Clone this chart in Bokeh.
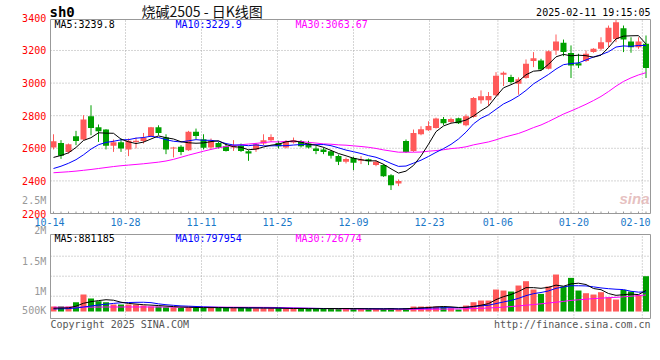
from bokeh.plotting import figure
from bokeh.models import Range1d, Label, ColumnDataSource
from bokeh.embed import file_html
from bokeh.resources import INLINE
from bokeh.core.properties import value

# ---------------- data ----------------
date_labels = ["10-14", "10-28", "11-11", "11-25", "12-09", "12-23", "01-06", "01-20", "02-10"]
date_slots = [0, 10, 20, 30, 40, 50, 59, 69, 78]

opens = [2605, 2633, 2578, 2674, 2654, 2796, 2729, 2715, 2615, 2637,
         2593, 2639, 2644, 2674, 2729, 2666, 2599, 2609, 2588, 2701,
         2656, 2605, 2633, 2613, 2605, 2615, 2582, 2593, 2629, 2650,
         2633, 2605, 2635, 2644, 2629, 2599, 2593, 2582, 2552, 2517,
         2540, 2523, 2533, 2497, 2497, 2435, 2384, 2645, 2584, 2686,
         2711, 2725, 2780, 2762, 2784, 2741, 2792, 2894, 2894, 2925,
         3051, 3037, 2996, 3031, 3135, 3139, 3088, 3200, 3247, 3184,
         3122, 3135, 3190, 3210, 3251, 3271, 3337, 3255, 3220, 3241]
highs = [2686, 2650, 2629, 2707, 2803, 2864, 2746, 2717, 2654, 2660,
         2660, 2666, 2694, 2731, 2741, 2686, 2609, 2619, 2707, 2721,
         2686, 2660, 2639, 2629, 2650, 2629, 2588, 2633, 2686, 2686,
         2646, 2650, 2666, 2650, 2646, 2613, 2605, 2590, 2562, 2543,
         2548, 2552, 2537, 2527, 2503, 2441, 2409, 2654, 2715, 2735,
         2766, 2788, 2792, 2788, 2788, 2808, 2914, 2955, 2945, 3067,
         3071, 3051, 3035, 3145, 3190, 3149, 3200, 3298, 3267, 3231,
         3180, 3200, 3214, 3281, 3353, 3388, 3353, 3281, 3281, 3292]
lows = [2593, 2535, 2568, 2619, 2650, 2680, 2639, 2593, 2578, 2578,
        2552, 2599, 2629, 2670, 2680, 2564, 2544, 2558, 2584, 2656,
        2593, 2593, 2599, 2580, 2584, 2578, 2523, 2578, 2619, 2639,
        2599, 2599, 2629, 2605, 2599, 2564, 2564, 2537, 2497, 2507,
        2466, 2503, 2497, 2490, 2425, 2344, 2368, 2572, 2578, 2680,
        2707, 2721, 2743, 2755, 2749, 2735, 2788, 2874, 2860, 2919,
        2982, 2996, 2929, 3027, 3098, 3078, 3084, 3173, 3165, 3031,
        3092, 3129, 3186, 3200, 3220, 3251, 3190, 3186, 3210, 3031]
closes = [2643, 2554, 2625, 2644, 2776, 2725, 2705, 2615, 2637, 2599,
          2646, 2646, 2664, 2729, 2694, 2593, 2605, 2578, 2701, 2676,
          2603, 2646, 2605, 2584, 2613, 2584, 2568, 2625, 2650, 2670,
          2613, 2644, 2650, 2613, 2605, 2584, 2578, 2554, 2517, 2535,
          2511, 2531, 2521, 2517, 2429, 2374, 2400, 2578, 2694, 2717,
          2737, 2782, 2753, 2780, 2753, 2796, 2908, 2919, 2920, 3045,
          3063, 3006, 3023, 3118, 3153, 3084, 3196, 3255, 3190, 3108,
          3108, 3180, 3210, 3251, 3339, 3373, 3267, 3220, 3255, 3092]

ma5 = [2544, 2556, 2572, 2605, 2648, 2665, 2695, 2693, 2692, 2656,
       2640, 2629, 2638, 2657, 2676, 2665, 2657, 2640, 2634, 2631,
       2633, 2641, 2646, 2623, 2610, 2606, 2591, 2595, 2608, 2619,
       2625, 2640, 2645, 2638, 2625, 2619, 2606, 2587, 2568, 2554,
       2539, 2530, 2523, 2523, 2502, 2474, 2448, 2460, 2495, 2553,
       2625, 2702, 2737, 2754, 2761, 2773, 2798, 2831, 2859, 2917,
       2971, 2990, 3011, 3051, 3073, 3077, 3115, 3161, 3176, 3167,
       3171, 3168, 3159, 3171, 3218, 3271, 3288, 3290, 3291, 3240]
ma10 = [2476, 2490, 2508, 2530, 2560, 2595, 2622, 2636, 2643, 2652,
        2653, 2662, 2666, 2674, 2666, 2653, 2643, 2639, 2646, 2653,
        2649, 2649, 2643, 2629, 2620, 2620, 2616, 2621, 2615, 2615,
        2616, 2616, 2620, 2623, 2622, 2622, 2623, 2616, 2603, 2589,
        2579, 2568, 2555, 2545, 2528, 2507, 2489, 2491, 2509, 2527,
        2550, 2575, 2598, 2624, 2657, 2699, 2750, 2784, 2806, 2839,
        2872, 2894, 2921, 2955, 2995, 3024, 3053, 3086, 3113, 3120,
        3124, 3142, 3160, 3174, 3192, 3221, 3228, 3225, 3231, 3230]
ma30 = [2450, 2453, 2456, 2460, 2465, 2470, 2476, 2482, 2488, 2493,
        2497, 2501, 2505, 2510, 2515, 2522, 2532, 2545, 2558, 2570,
        2582, 2593, 2603, 2611, 2617, 2622, 2626, 2630, 2635, 2640,
        2639, 2642, 2643, 2642, 2636, 2632, 2627, 2625, 2621, 2619,
        2615, 2611, 2606, 2599, 2590, 2583, 2576, 2576, 2576, 2577,
        2582, 2586, 2591, 2598, 2602, 2609, 2621, 2630, 2639, 2652,
        2667, 2679, 2691, 2708, 2727, 2743, 2764, 2787, 2810, 2829,
        2849, 2870, 2893, 2918, 2948, 2981, 3010, 3032, 3050, 3064]

# volume in thousands (read against the 500K / 1M / 1.5M grid)
volume = [242, 242, 242, 350, 542, 442, 375, 350, 292, 292,
          292, 292, 267, 242, 242, 225, 225, 208, 225, 208,
          208, 225, 208, 208, 208, 208, 208, 200, 200, 200,
          200, 183, 183, 200, 183, 192, 192, 192, 200, 183,
          183, 183, 183, 183, 183, 200, 158, 200, 242, 242,
          242, 242, 242, 200, 167, 267, 350, 392, 392, 667,
          642, 617, 767, 875, 667, 558, 742, 1042, 742, 958,
          642, 575, 542, 600, 475, 417, 658, 617, 533, 1000]
vol_ma5 = [200, 205, 210, 250, 324, 364, 390, 412, 400, 350,
           320, 304, 287, 277, 267, 254, 240, 228, 225, 218,
           215, 215, 215, 211, 211, 211, 208, 206, 205, 203,
           202, 197, 193, 193, 190, 188, 190, 192, 192, 192,
           190, 188, 186, 183, 183, 186, 181, 185, 197, 208,
           217, 234, 242, 234, 219, 224, 245, 275, 314, 414,
           489, 542, 617, 714, 714, 697, 722, 777, 750, 808,
           825, 792, 692, 663, 567, 522, 538, 553, 540, 645]
vol_ma10 = [180, 185, 190, 205, 230, 255, 280, 300, 320, 337,
            342, 347, 349, 339, 309, 287, 272, 258, 251, 243,
            234, 228, 222, 218, 215, 213, 211, 211, 208, 207,
            207, 202, 200, 199, 197, 195, 193, 193, 193, 191,
            189, 189, 189, 187, 187, 188, 185, 186, 190, 196,
            202, 208, 213, 215, 214, 220, 239, 259, 274, 316,
            356, 394, 446, 514, 564, 593, 632, 697, 732, 761,
            761, 757, 734, 707, 688, 674, 665, 623, 602, 606]
vol_ma30 = [225, 225, 225, 226, 227, 228, 229, 230, 230, 231,
            231, 231, 231, 231, 230, 230, 229, 229, 228, 228,
            227, 227, 226, 226, 225, 224, 223, 222, 221, 220,
            216, 212, 208, 204, 200, 196, 192, 188, 185, 182,
            180, 178, 176, 175, 174, 173, 172, 172, 172, 173,
            174, 175, 177, 180, 182, 186, 192, 198, 205, 215,
            228, 242, 258, 275, 292, 310, 330, 350, 370, 395,
            410, 425, 440, 452, 462, 472, 485, 500, 515, 530]

price_label_ticks = [2200, 2400, 2600, 2800, 3000, 3200, 3400]
price_grid = [2400, 2600, 2800, 3000, 3200]
vol_grid = [500, 1000, 1500]
vol_label_text = ["2.5M", "2M", "1.5M", "1M", "500K"]
vol_label_py = [200, 230, 260.5, 291, 310]   # where sina prints them (page px)

# ---------------- layout constants (page pixels) ----------------
W, H = 652, 340
X0, X1 = -0.4, 79.6            # candle-index range of the panels
P0, P1 = 2200, 3390            # price range of the upper panel
V0, V1 = -57, 2042             # volume range of the lower panel
VOL_BASE = 117
FRAME_L, FRAME_R = 50, 650
PF_T, PF_B = 19, 213
VF_T, VF_B = 234, 318
SLOT0, SLOT_PX = 49, 7.6
LABEL_HALF = 15

RED = "#ff5a5a"
GREEN = "#00a000"
GRID = "#aaaaaa"
BORDER = "#999999"
MONO = "DejaVu Sans Mono"


def px2x(px):
    return X0 + (px - FRAME_L) * (X1 - X0) / (FRAME_R - FRAME_L)


def py2p(py):
    return P0 + (PF_B - py) * (P1 - P0) / (PF_B - PF_T)


def py2v(py):
    return V0 + (VF_B - py) * (V1 - V0) / (VF_B - VF_T)


slot_px = [SLOT0 + SLOT_PX * s for s in date_slots]
grid_x = [px2x(max(v, FRAME_L)) for v in slot_px]
label_x = [px2x(min(v, FRAME_R - LABEL_HALF)) for v in slot_px]

n = len(closes)
xs = list(range(n))
colors = [RED if c >= o else GREEN for o, c in zip(opens, closes)]
src = ColumnDataSource(dict(
    x=xs, o=opens, h=highs, l=lows, c=closes,
    top=[max(o, c) for o, c in zip(opens, closes)],
    bot=[min(o, c) for o, c in zip(opens, closes)],
    color=colors, vol=volume,
    ma5=ma5, ma10=ma10, ma30=ma30,
    vma5=vol_ma5, vma10=vol_ma10, vma30=vol_ma30,
))

p = figure(width=W, height=H, x_range=Range1d(px2x(0), px2x(W)),
           y_range=Range1d(py2p(H), py2p(0)),
           x_axis_location=None, y_axis_location=None,
           output_backend="svg", toolbar_location=None, min_border=0)
p.extra_y_ranges = {"vol": Range1d(py2v(H), py2v(0))}
p.outline_line_color = None
p.background_fill_color = "#ffffff"
p.border_fill_color = "#ffffff"
p.grid.visible = False

k = len(grid_x)
# ---- grids ----
p.segment(x0=grid_x, x1=grid_x, y0=[P0] * k, y1=[P1] * k,
          line_color=GRID, line_dash="1 2", line_width=1)
p.segment(x0=[X0] * len(price_grid), x1=[X1] * len(price_grid), y0=price_grid, y1=price_grid,
          line_color=GRID, line_dash="1 2", line_width=1)
p.segment(x0=grid_x, x1=grid_x, y0=[V0] * k, y1=[V1] * k, y_range_name="vol",
          line_color=GRID, line_dash="1 2", line_width=1)
p.segment(x0=[X0] * len(vol_grid), x1=[X1] * len(vol_grid), y0=vol_grid, y1=vol_grid,
          y_range_name="vol", line_color=GRID, line_dash="1 2", line_width=1)

# ---- candles ----
p.segment(x0="x", y0="l", x1="x", y1="h", line_color="color", line_width=1, source=src)
p.vbar(x="x", width=0.8, top="top", bottom="bot", fill_color="color", line_color=None, source=src)
p.line("x", "ma30", line_color="#ff00ff", line_width=1, source=src)
p.line("x", "ma10", line_color="#0000ff", line_width=1, source=src)
p.line("x", "ma5", line_color="#000000", line_width=1, source=src)

# ---- volume ----
p.vbar(x="x", width=0.8, top="vol", bottom=VOL_BASE, fill_color="color", line_color=None,
       source=src, y_range_name="vol")
p.line("x", "vma30", line_color="#ff00ff", line_width=1, source=src, y_range_name="vol")
p.line("x", "vma10", line_color="#0000ff", line_width=1, source=src, y_range_name="vol")
p.line("x", "vma5", line_color="#000000", line_width=1, source=src, y_range_name="vol")

# ---- panel frames ----
p.quad(left=[X0], right=[X1], bottom=[P0], top=[P1], fill_color=None,
       line_color=BORDER, line_width=1)
p.quad(left=[X0], right=[X1], bottom=[V0], top=[V1], fill_color=None,
       line_color=BORDER, line_width=1, y_range_name="vol")
# small ticks along the bottom edge of the price panel
tick_h = 2 * (P1 - P0) / (PF_B - PF_T)
p.segment(x0=xs, x1=xs, y0=[P0] * n, y1=[P0 + tick_h] * n, line_color=BORDER, line_width=1)

# ---- axis texts ----
p.text(x=[px2x(45.7)] * len(price_label_ticks), y=price_label_ticks,
       text=[str(t) for t in price_label_ticks], text_color="#ff0000",
       text_font=value(MONO), text_font_size="10px", text_align="right",
       text_baseline="middle")
p.text(x=label_x, y=[py2p(221.5)] * len(label_x), text=date_labels,
       text_color="#1a78c8", text_font=value(MONO), text_font_size="10px",
       text_align="center", text_baseline="middle")
p.text(x=[px2x(45.7)] * len(vol_label_text), y=[py2v(v) for v in vol_label_py],
       text=vol_label_text, text_color="#999999", text_font=value(MONO),
       text_font_size="10px", text_align="right", text_baseline="middle",
       y_range_name="vol")


def lab(px, y, text, color="#000000", size="10px", font=MONO, align="left",
        style="normal", alpha=1.0, yr="default"):
    p.add_layout(Label(x=px2x(px), y=y, text=text, text_color=color,
                       text_font=font, text_font_size=size, text_align=align,
                       text_baseline="middle", text_font_style=style,
                       text_alpha=alpha, y_range_name=yr))


lab(54, py2p(23.7), "MA5:3239.8", "#000000")
lab(175, py2p(23.7), "MA10:3229.9", "#0000ff")
lab(295, py2p(23.7), "MA30:3063.67", "#ff00ff")
lab(49, py2p(11), "sh0", "#000000", size="14px", style="bold")
lab(141, py2p(10), "烧碱2505 - 日K线图", "#111111", size="14px", font="Noto Sans CJK SC")
lab(650, py2p(11.5), "2025-02-11 19:15:05", "#000000", align="right")
lab(619, py2p(198), "sina", "#e0b0b0", size="15px", font="Liberation Sans",
    style="bold italic", alpha=0.8)

lab(54, py2v(238.3), "MA5:881185", "#000000", yr="vol")
lab(175, py2v(238.3), "MA10:797954", "#0000ff", yr="vol")
lab(295, py2v(238.3), "MA30:726774", "#ff00ff", yr="vol")
lab(50, py2v(323.5), "Copyright 2025 SINA.COM", "#555555", yr="vol")
lab(650, py2v(323.5), "http://finance.sina.com.cn", "#555555", align="right", yr="vol")

with open("out.html", "w") as f:
    f.write(file_html(p, INLINE))
